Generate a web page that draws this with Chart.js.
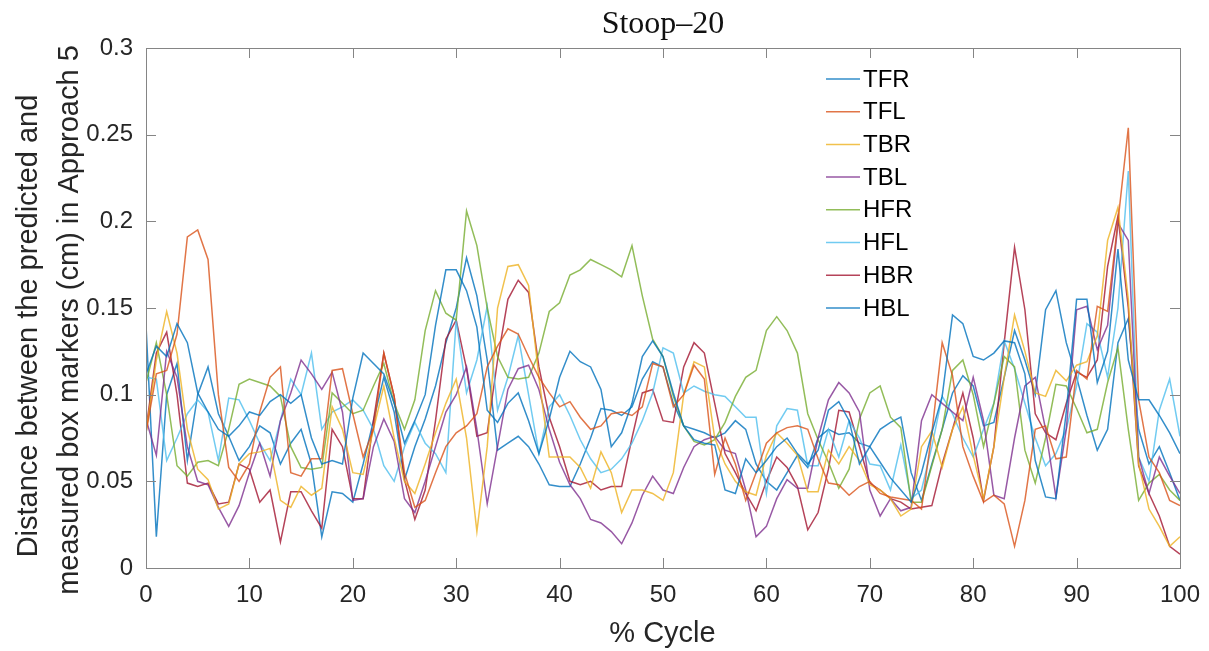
<!DOCTYPE html>
<html>
<head>
<meta charset="utf-8">
<script src="https://cdn.jsdelivr.net/npm/chart.js@4.4.1/dist/chart.umd.min.js"></script>
<style>
html,body{margin:0;padding:0;background:#fff;}
canvas{display:block;}
</style>
</head>
<body>
<canvas id="c" width="1209" height="651"></canvas>
<script>
const cycle = Array.from({length: 101}, (_, i) => i);

const TFR = [0.112,0.128,0.122,0.141,0.130,0.101,0.090,0.080,0.076,0.082,
0.090,0.088,0.096,0.100,0.095,0.100,0.075,0.060,0.062,0.060,
0.098,0.124,0.118,0.112,0.095,0.072,0.085,0.100,0.140,0.172,
0.172,0.160,0.139,0.091,0.084,0.095,0.101,0.085,0.066,0.086,
0.110,0.125,0.119,0.116,0.103,0.070,0.078,0.095,0.122,0.131,
0.122,0.101,0.082,0.074,0.072,0.071,0.045,0.043,0.063,0.055,
0.062,0.070,0.075,0.066,0.060,0.068,0.091,0.096,0.085,0.060,
0.070,0.061,0.052,0.045,0.038,0.055,0.078,0.099,0.146,0.141,
0.122,0.120,0.124,0.131,0.130,0.112,0.062,0.041,0.040,0.090,
0.155,0.155,0.107,0.125,0.184,0.120,0.097,0.097,0.088,0.078,0.066];

const TFL = [0.078,0.112,0.114,0.135,0.191,0.195,0.178,0.100,0.058,0.050,
0.060,0.090,0.110,0.116,0.055,0.053,0.063,0.063,0.114,0.115,
0.089,0.064,0.080,0.124,0.099,0.055,0.035,0.039,0.055,0.070,
0.078,0.082,0.089,0.116,0.128,0.138,0.135,0.122,0.110,0.101,
0.093,0.096,0.087,0.080,0.082,0.089,0.090,0.088,0.093,0.118,
0.116,0.093,0.100,0.117,0.109,0.054,0.075,0.060,0.039,0.055,
0.072,0.078,0.081,0.082,0.080,0.063,0.049,0.048,0.042,0.047,
0.050,0.043,0.041,0.040,0.039,0.034,0.078,0.130,0.111,0.070,
0.053,0.038,0.042,0.037,0.0125,0.039,0.080,0.082,0.063,0.064,
0.114,0.109,0.151,0.148,0.200,0.254,0.097,0.064,0.055,0.039,0.036];

const TBR = [0.078,0.120,0.148,0.124,0.080,0.057,0.051,0.034,0.037,0.060,
0.066,0.067,0.069,0.039,0.035,0.047,0.042,0.046,0.093,0.080,
0.055,0.054,0.080,0.105,0.075,0.050,0.043,0.060,0.078,0.095,
0.109,0.075,0.021,0.070,0.150,0.174,0.175,0.163,0.110,0.064,
0.064,0.064,0.058,0.046,0.067,0.055,0.032,0.045,0.045,0.043,
0.039,0.055,0.100,0.119,0.116,0.075,0.060,0.050,0.044,0.042,
0.065,0.078,0.072,0.065,0.044,0.044,0.068,0.060,0.070,0.062,
0.048,0.045,0.040,0.030,0.034,0.070,0.079,0.058,0.080,0.093,
0.065,0.040,0.070,0.110,0.146,0.125,0.101,0.099,0.114,0.108,
0.117,0.119,0.134,0.189,0.208,0.155,0.060,0.034,0.024,0.0125,0.018];

const TBL = [0.086,0.065,0.125,0.110,0.070,0.050,0.048,0.035,0.024,0.036,
0.055,0.072,0.053,0.085,0.101,0.120,0.112,0.103,0.113,0.090,
0.039,0.040,0.070,0.086,0.073,0.040,0.032,0.050,0.070,0.090,
0.100,0.116,0.080,0.037,0.070,0.103,0.115,0.117,0.103,0.080,
0.061,0.048,0.040,0.028,0.026,0.021,0.014,0.026,0.042,0.053,
0.045,0.043,0.058,0.070,0.074,0.076,0.068,0.066,0.045,0.018,
0.024,0.040,0.051,0.046,0.046,0.075,0.097,0.107,0.101,0.090,
0.045,0.030,0.040,0.033,0.035,0.085,0.100,0.095,0.090,0.085,
0.110,0.085,0.042,0.040,0.075,0.105,0.110,0.080,0.041,0.080,
0.149,0.151,0.126,0.140,0.199,0.189,0.064,0.043,0.064,0.053,0.043];

const HFR = [0.107,0.130,0.100,0.059,0.053,0.061,0.062,0.059,0.080,0.106,
0.109,0.107,0.105,0.099,0.070,0.058,0.057,0.058,0.101,0.095,
0.089,0.091,0.105,0.118,0.095,0.080,0.097,0.137,0.160,0.147,
0.143,0.206,0.186,0.150,0.122,0.110,0.109,0.110,0.124,0.148,
0.153,0.169,0.172,0.178,0.175,0.172,0.168,0.186,0.157,0.132,
0.122,0.099,0.082,0.073,0.071,0.074,0.084,0.099,0.110,0.114,
0.137,0.145,0.137,0.124,0.089,0.074,0.061,0.046,0.057,0.086,
0.101,0.105,0.087,0.081,0.038,0.038,0.059,0.080,0.114,0.120,
0.100,0.070,0.095,0.122,0.116,0.068,0.049,0.075,0.106,0.105,
0.092,0.078,0.080,0.107,0.127,0.080,0.039,0.049,0.054,0.045,0.039];

const HFL = [0.110,0.109,0.062,0.075,0.089,0.097,0.090,0.062,0.098,0.097,
0.085,0.072,0.062,0.085,0.109,0.100,0.124,0.080,0.090,0.093,
0.097,0.091,0.080,0.059,0.050,0.070,0.084,0.072,0.066,0.055,
0.143,0.101,0.120,0.151,0.091,0.110,0.134,0.100,0.066,0.093,
0.100,0.088,0.074,0.063,0.055,0.057,0.063,0.072,0.085,0.101,
0.127,0.124,0.101,0.105,0.102,0.100,0.099,0.093,0.087,0.087,
0.043,0.082,0.092,0.091,0.059,0.059,0.080,0.064,0.085,0.075,
0.060,0.059,0.045,0.071,0.040,0.045,0.070,0.099,0.089,0.075,
0.064,0.080,0.095,0.131,0.115,0.095,0.075,0.059,0.066,0.080,
0.105,0.141,0.136,0.110,0.150,0.229,0.064,0.050,0.091,0.109,0.076];

const HBR = [0.080,0.124,0.136,0.100,0.049,0.047,0.049,0.037,0.038,0.060,
0.057,0.038,0.045,0.015,0.044,0.044,0.033,0.023,0.080,0.070,
0.040,0.040,0.085,0.124,0.099,0.051,0.028,0.045,0.085,0.132,
0.143,0.115,0.076,0.078,0.120,0.155,0.166,0.159,0.116,0.087,
0.070,0.050,0.048,0.050,0.045,0.047,0.047,0.075,0.101,0.103,
0.085,0.084,0.116,0.130,0.124,0.095,0.066,0.055,0.043,0.033,
0.050,0.064,0.058,0.047,0.022,0.032,0.057,0.091,0.090,0.070,
0.049,0.045,0.040,0.038,0.034,0.035,0.036,0.060,0.080,0.101,
0.075,0.039,0.070,0.130,0.185,0.149,0.089,0.078,0.074,0.095,
0.113,0.110,0.120,0.174,0.203,0.150,0.059,0.043,0.030,0.0125,0.008];

const HBL = [0.140,0.018,0.100,0.118,0.062,0.100,0.116,0.089,0.076,0.062,
0.070,0.082,0.078,0.060,0.072,0.080,0.060,0.018,0.044,0.043,
0.038,0.060,0.085,0.110,0.090,0.051,0.070,0.086,0.105,0.130,
0.150,0.179,0.157,0.120,0.068,0.072,0.076,0.070,0.060,0.048,
0.047,0.047,0.060,0.075,0.092,0.091,0.088,0.093,0.109,0.119,
0.116,0.095,0.082,0.080,0.078,0.075,0.078,0.085,0.080,0.060,
0.050,0.045,0.055,0.065,0.058,0.075,0.080,0.077,0.078,0.072,
0.070,0.080,0.084,0.087,0.055,0.039,0.060,0.080,0.101,0.111,
0.105,0.082,0.084,0.110,0.137,0.120,0.100,0.149,0.160,0.130,
0.110,0.088,0.068,0.080,0.130,0.144,0.080,0.060,0.070,0.055,0.039];

const seriesNames = ['TFR','TFL','TBR','TBL','HFR','HFL','HBR','HBL'];
const seriesData = [TFR, TFL, TBR, TBL, HFR, HFL, HBR, HBL];
const seriesColors = ['rgba(0,114,189,0.8)','rgba(217,83,25,0.8)','rgba(237,177,32,0.8)','rgba(126,47,142,0.8)',
                      'rgba(119,172,48,0.8)','rgba(77,190,238,0.8)','rgba(162,20,47,0.8)','rgba(0,114,189,0.8)'];

const yTicks = [0, 0.05, 0.1, 0.15, 0.2, 0.25, 0.3];
const xTicks = [0,10,20,30,40,50,60,70,80,90,100];

const titleText = 'Stoop\u201320';
const yLabel1 = 'Distance between the predicted and';
const yLabel2 = 'measured box markers (cm) in Approach 5';
const xLabel = '% Cycle';

const SANS = "'Liberation Sans', Arial, Helvetica, sans-serif";
const AXIS_COLOR = '#858585';
const TEXT_COLOR = '#262626';

const decorPlugin = {
  id: 'decor',
  afterDraw(chart) {
    const {ctx, chartArea: a, scales: {x, y}} = chart;
    ctx.save();
    // box
    ctx.strokeStyle = AXIS_COLOR;
    ctx.lineWidth = 1;
    ctx.strokeRect(Math.round(a.left) + 0.5, Math.round(a.top) + 0.5,
                   Math.round(a.right - a.left), Math.round(a.bottom - a.top));
    // inward ticks
    ctx.beginPath();
    const tl = 10;
    x.ticks.forEach(t => {
      const px = Math.round(x.getPixelForValue(t.value)) + 0.5;
      ctx.moveTo(px, a.bottom); ctx.lineTo(px, a.bottom - tl);
      ctx.moveTo(px, a.top); ctx.lineTo(px, a.top + tl);
    });
    y.ticks.forEach(t => {
      const py = Math.round(y.getPixelForValue(t.value)) + 0.5;
      ctx.moveTo(a.left, py); ctx.lineTo(a.left + tl, py);
      ctx.moveTo(a.right, py); ctx.lineTo(a.right - tl, py);
    });
    ctx.stroke();

    // title
    ctx.fillStyle = '#111';
    ctx.font = "32px 'Liberation Serif', 'Times New Roman', serif";
    ctx.textAlign = 'center';
    ctx.textBaseline = 'alphabetic';
    ctx.fillText(titleText, 663, 33);

    // x label
    ctx.fillStyle = TEXT_COLOR;
    ctx.font = '29px ' + SANS;
    ctx.fillText(xLabel, 662.5, 641.5);

    // y label (two lines)
    ctx.save();
    ctx.translate(37, 326);
    ctx.rotate(-Math.PI / 2);
    ctx.fillText(yLabel1, 0, 0);
    ctx.restore();
    ctx.save();
    ctx.translate(78, 320);
    ctx.rotate(-Math.PI / 2);
    ctx.fillText(yLabel2, 0, 0);
    ctx.restore();

    // legend
    ctx.font = '24px ' + SANS;
    ctx.textAlign = 'left';
    ctx.textBaseline = 'middle';
    chart.data.datasets.forEach((ds, i) => {
      const ly = 79 + i * 32.7;
      ctx.strokeStyle = ds.borderColor;
      ctx.lineWidth = 1.5;
      ctx.beginPath();
      ctx.moveTo(826, ly); ctx.lineTo(860, ly);
      ctx.stroke();
      ctx.fillStyle = '#000';
      ctx.fillText(ds.label, 863, ly + 1);
    });
    ctx.restore();
  }
};

new Chart(document.getElementById('c'), {
  type: 'line',
  data: {
    labels: cycle,
    datasets: seriesNames.map((n, i) => ({
      label: n,
      data: seriesData[i],
      borderColor: seriesColors[i],
      borderWidth: 1.5,
      pointRadius: 0,
      fill: false,
      tension: 0
    }))
  },
  options: {
    responsive: false,
    animation: false,
    layout: { padding: { left: 0, right: 29, top: 48, bottom: 0 } },
    plugins: { legend: { display: false }, tooltip: { enabled: false }, title: { display: false } },
    scales: {
      x: {
        type: 'linear', min: 0, max: 100,
        afterBuildTicks: s => { s.ticks = xTicks.map(v => ({value: v})); },
        ticks: { font: { size: 24, family: SANS }, color: TEXT_COLOR, padding: 5, maxRotation: 0,
                 callback: v => String(v) },
        grid: { display: false },
        border: { display: false },
        afterFit: s => { s.height = 651 - 568; }
      },
      y: {
        type: 'linear', min: 0, max: 0.3,
        afterBuildTicks: s => { s.ticks = yTicks.map(v => ({value: v})); },
        ticks: { font: { size: 24, family: SANS }, color: TEXT_COLOR, padding: 5,
                 callback: v => String(Math.round(v * 100) / 100) },
        grid: { display: false },
        border: { display: false },
        afterFit: s => { s.width = 146; }
      }
    }
  },
  plugins: [decorPlugin]
});
</script>
</body>
</html>
